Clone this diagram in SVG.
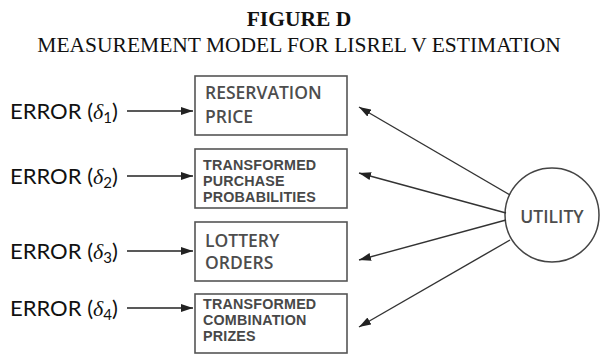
<svg xmlns="http://www.w3.org/2000/svg" width="600" height="354" viewBox="0 0 600 354">
<style>
.title{font-family:"Liberation Serif",serif;font-size:21.5px;fill:#111;text-anchor:middle}
.err{font-family:Lato,"Liberation Sans",sans-serif;font-size:22px;fill:#111}
.d{font-family:"Liberation Serif",serif;font-style:italic}
.box{fill:#fff;stroke:#555;stroke-width:1.6}
.lbl{font-family:"Open Sans",sans-serif;font-size:17.5px;font-weight:600;fill:#4d4d4d}
.lbs{font-family:"Liberation Sans",sans-serif;font-size:14.3px;font-weight:700;fill:#484848;letter-spacing:0.2px}
.conn{stroke:#222;stroke-width:1.5;fill:none}
.conn2{stroke:#333;stroke-width:1.4;fill:none}
</style>
<defs>
<marker id="ah" markerUnits="userSpaceOnUse" markerWidth="12" markerHeight="8" refX="12" refY="4" orient="auto">
<path d="M0,0 L12,4 L0,8 z" fill="#222"/>
</marker>
</defs>
<rect width="600" height="354" fill="#fff"/>
<g id="title">
<text class="title" x="299" y="26" font-weight="bold">FIGURE D</text>
<text class="title" x="299" y="52">MEASUREMENT MODEL FOR LISREL V ESTIMATION</text>
</g>
<g id="err1"><text class="err" x="10" y="119">ERROR (<tspan class="d">δ</tspan><tspan font-size="15" dy="4">1</tspan><tspan dy="-4">)</tspan></text></g>
<g id="err2"><text class="err" x="10" y="184">ERROR (<tspan class="d">δ</tspan><tspan font-size="15" dy="4">2</tspan><tspan dy="-4">)</tspan></text></g>
<g id="err3"><text class="err" x="10" y="259">ERROR (<tspan class="d">δ</tspan><tspan font-size="15" dy="4">3</tspan><tspan dy="-4">)</tspan></text></g>
<g id="err4"><text class="err" x="10" y="316">ERROR (<tspan class="d">δ</tspan><tspan font-size="15" dy="4">4</tspan><tspan dy="-4">)</tspan></text></g>
<g id="box1"><rect class="box" x="195" y="76" width="152" height="59"/>
<text class="lbl" x="205" y="99">RESERVATION</text><text class="lbl" x="205" y="123">PRICE</text></g>
<g id="box2"><rect class="box" x="195" y="149" width="152" height="59"/>
<text class="lbs" x="203" y="169.5">TRANSFORMED</text><text class="lbs" x="203" y="185.5">PURCHASE</text><text class="lbs" x="203" y="201.5">PROBABILITIES</text></g>
<g id="box3"><rect class="box" x="195" y="222" width="152" height="59"/>
<text class="lbl" x="205" y="247">LOTTERY</text><text class="lbl" x="205" y="269">ORDERS</text></g>
<g id="box4"><rect class="box" x="195" y="294" width="152" height="59"/>
<text class="lbs" x="203" y="309">TRANSFORMED</text><text class="lbs" x="203" y="325">COMBINATION</text><text class="lbs" x="203" y="341">PRIZES</text></g>
<g id="utility"><circle cx="552" cy="215" r="47" fill="#fff" stroke="#444" stroke-width="1.5"/>
<text class="lbl" x="552" y="223" text-anchor="middle">UTILITY</text></g>
<g id="connectors">
<line class="conn" x1="127" y1="111" x2="193" y2="111" marker-end="url(#ah)"/>
<line class="conn" x1="127" y1="176" x2="193" y2="176" marker-end="url(#ah)"/>
<line class="conn" x1="127" y1="251" x2="193" y2="251" marker-end="url(#ah)"/>
<line class="conn" x1="127" y1="308" x2="193" y2="308" marker-end="url(#ah)"/>
<line class="conn2" x1="510" y1="195" x2="359" y2="107" marker-end="url(#ah)"/>
<line class="conn2" x1="506" y1="213" x2="359" y2="173" marker-end="url(#ah)"/>
<line class="conn2" x1="506" y1="220" x2="359" y2="260" marker-end="url(#ah)"/>
<line class="conn2" x1="510" y1="240" x2="359" y2="327" marker-end="url(#ah)"/>
</g>
</svg>
